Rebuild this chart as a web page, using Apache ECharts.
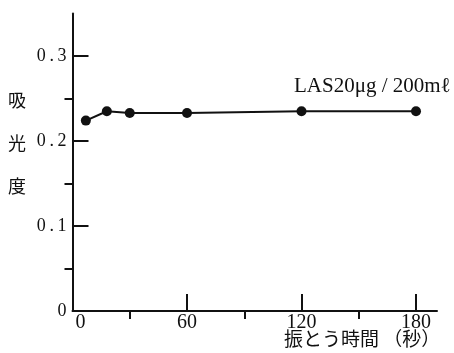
<!DOCTYPE html>
<html>
<head>
<meta charset="utf-8">
<style>
  html, body { margin: 0; padding: 0; background: #fff; }
  #chart { width: 454px; height: 353px; }
</style>
<script src="https://cdn.jsdelivr.net/npm/echarts@6/dist/echarts.min.js"></script>
</head>
<body>
<div id="chart"></div>
<script>
// Shaking time (s) vs absorbance
const shakeTimes = [7, 18, 30, 60, 120, 180];
const absorbance = [0.224, 0.235, 0.233, 0.233, 0.235, 0.235];
const xMajorTicks = [0, 60, 120, 180];
const xMinorTicks = [30, 90, 150];
const yMajorTicks = [0, 0.1, 0.2, 0.3];
const yMinorTicks = [0.05, 0.15, 0.25];
const seriesLabel = 'LAS20μg / 200mℓ';
const yTitle = '吸\n光\n度';
const xTitle = '振とう時間 （秒）';

const serif = '"Liberation Serif", "DejaVu Serif", serif';
const cjk = '"Noto Sans CJK JP", sans-serif';

const chart = echarts.init(document.getElementById('chart'));

const baseX = { type: 'value', min: 0, max: 191, gridIndex: 0, splitLine: { show: false } };
const baseY = { type: 'value', min: 0, max: 0.35, gridIndex: 0, splitLine: { show: false } };

// y tick labels are set loosely, with thin spaces between the characters
const spaced = v => String(v).split('').join('\u2009');

chart.setOption({
  animation: false,
  backgroundColor: '#fff',
  grid: { left: 72.5, right: 17, top: 13.5, bottom: 42 },
  xAxis: [
    Object.assign({}, baseX, {
      axisLine: { lineStyle: { color: '#111', width: 2 } },
      axisTick: { inside: true, length: 17, customValues: xMajorTicks, lineStyle: { color: '#111', width: 2 } },
      axisLabel: {
        customValues: xMajorTicks, color: '#111', fontFamily: serif, fontSize: 20, margin: 2,
        // the origin label sits a little right of the corner
        formatter: v => (v === 0 ? '{z|0}' : String(v)),
        rich: { z: { fontFamily: serif, fontSize: 20, color: '#111', padding: [0, 0, 0, 16] } }
      }
    }),
    Object.assign({}, baseX, {
      axisLine: { show: false },
      axisTick: { inside: true, length: 8, customValues: xMinorTicks, lineStyle: { color: '#111', width: 2 } },
      axisLabel: { show: false }
    })
  ],
  yAxis: [
    Object.assign({}, baseY, {
      axisLine: { lineStyle: { color: '#111', width: 2 } },
      axisTick: { inside: true, length: 16, customValues: yMajorTicks, lineStyle: { color: '#111', width: 2 } },
      axisLabel: {
        customValues: yMajorTicks, color: '#111', fontFamily: serif, fontSize: 18, margin: 6,
        formatter: v => spaced(v)
      }
    }),
    Object.assign({}, baseY, {
      axisLine: { show: false },
      axisTick: { inside: true, length: 8, customValues: yMinorTicks, lineStyle: { color: '#111', width: 2 } },
      axisLabel: { show: false }
    })
  ],
  series: [{
    type: 'line',
    xAxisIndex: 0,
    yAxisIndex: 0,
    data: shakeTimes.map((t, i) => [t, absorbance[i]]),
    symbol: 'circle',
    symbolSize: 10,
    lineStyle: { color: '#111', width: 2 },
    itemStyle: { color: '#111' }
  }],
  graphic: [
    { type: 'text', left: 294, top: 76, style: { text: seriesLabel, font: '21px ' + serif, fill: '#111' } },
    { type: 'text', left: 8, top: 78.5, style: { text: yTitle, font: '18px ' + cjk, fill: '#111', lineHeight: 43 } },
    { type: 'text', left: 284, top: 329, style: { text: xTitle, font: '19px ' + cjk, fill: '#111' } }
  ]
});
</script>
</body>
</html>
